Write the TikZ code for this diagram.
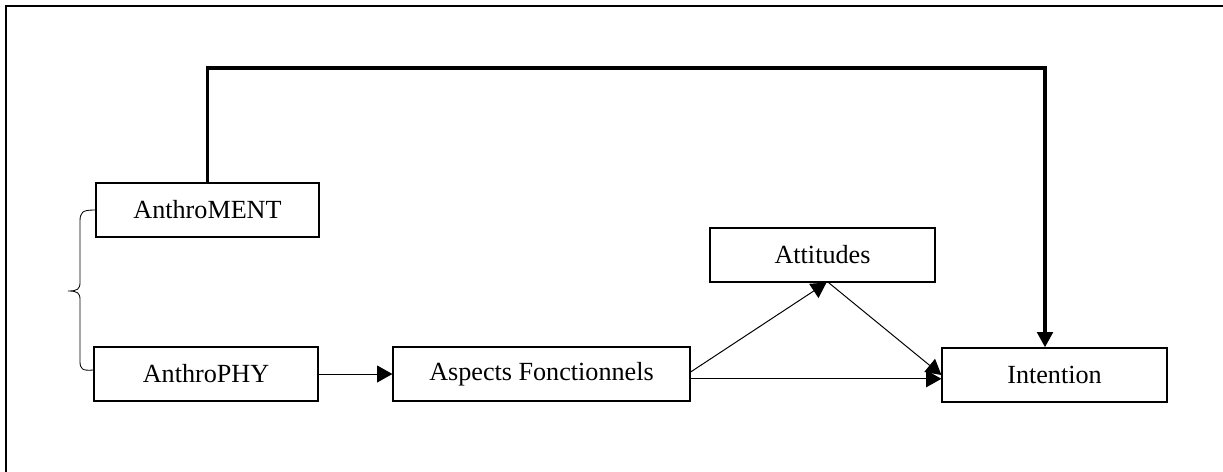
\documentclass[tikz,border=0pt]{standalone}
\usepackage{fontspec}
\setmainfont{Liberation Serif}
\usetikzlibrary{arrows.meta}

\begin{document}
\begin{tikzpicture}[x=0.025cm, y=-0.025cm,
  box/.style={draw, line width=0.8pt, minimum height=1.35cm, font=\fontsize{18.6}{21}\selectfont},
  link/.style={-{Triangle[length=0.38cm, width=0.42cm]}, line width=0.7pt},
  biglink/.style={-{Triangle[length=0.38cm, width=0.38cm]}, line width=2.8pt}]
\useasboundingbox (0,0) rectangle (1223,472);
\draw[line width=0.8pt] (6,472) -- (6,6) -- (1223,6);

\node[box, minimum width=5.575cm] (ment) at (207.5,210) {AnthroMENT};
\node[box, minimum width=5.6cm] (phy) at (206,374) {AnthroPHY};
\node[box, minimum width=7.425cm] (asp) at (541.5,374) {Aspects Fonctionnels};
\node[box, minimum width=5.625cm] (att) at (822.5,255) {Attitudes};
\node[box, minimum width=5.625cm] (int) at (1054.5,375) {Intention};
\coordinate (top) at (1045,68);

% brace
\draw[line width=0.6pt] (ment.west) .. controls (82,210) and (80,212) .. (80,222) -- (80,282)
  .. controls (80,289) and (78,291) .. (68,291)
  .. controls (78,291) and (80,293) .. (80,300) -- (80,361)
  .. controls (80,369) and (82,371) .. ([yshift=0.1cm]phy.west);

\draw[link] (phy.east) -- (asp.west);
\draw[link] ([yshift=0.05cm]asp.east) -- ([xshift=0.1cm]att.south);
\draw[link] ([xshift=0.15cm]att.south) -- (int.west);
\draw[link] ([yshift=-0.12cm]asp.east) -- ([yshift=-0.12cm]asp.east -| int.west);
\draw[biglink] (ment.north) |- (top) -- (top |- int.north);
\end{tikzpicture}
\end{document}
